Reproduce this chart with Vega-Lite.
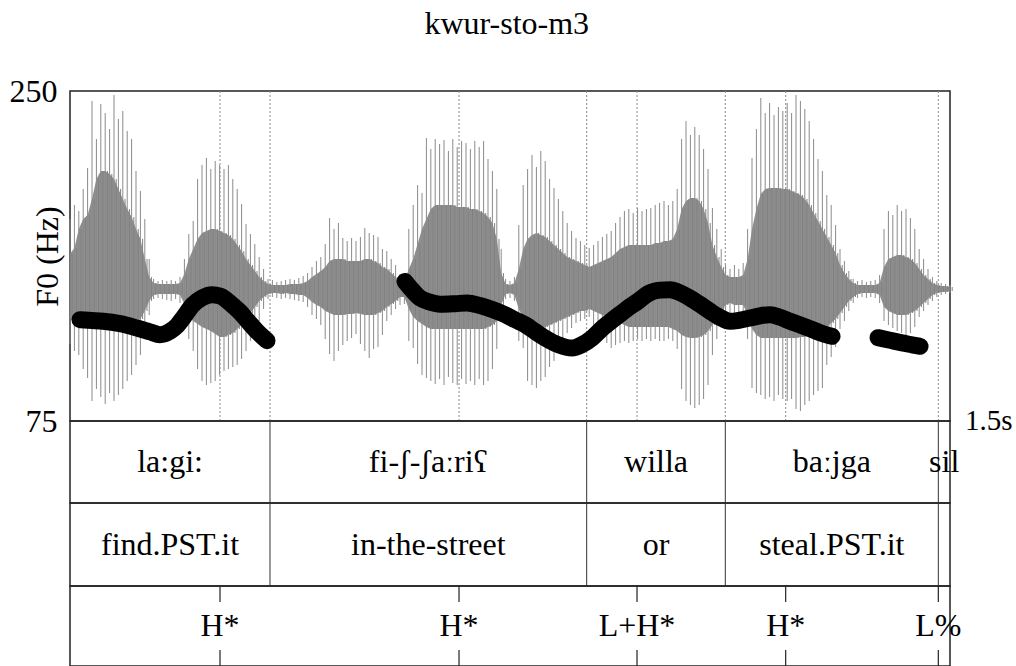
{
"$schema": "https://vega.github.io/schema/vega-lite/v6.json",
"padding": {"left": 8, "top": 8, "right": 2, "bottom": 0},
"title": {"text": "kwur-sto-m3", "fontSize": 32, "font": "Liberation Serif", "fontWeight": "normal", "color": "black", "anchor": "middle", "baseline": "alphabetic", "offset": 8, "dx": -4},
"config": {"font": "Liberation Serif", "view": {"stroke": "#222", "strokeWidth": 1.5}, "concat": {"spacing": 0}},
"spacing": 0,
"bounds": "flush",
"datasets": {
"wave": [
{"t":0,"hi":70,"lo":-55,"ch":35,"cl":-30},{"t":0.0075,"hi":84,"lo":-62,"ch":41,"cl":-32},{"t":0.015,"hi":78,"lo":-66,"ch":60,"cl":-32},{"t":0.0225,"hi":100,"lo":-80,"ch":70,"cl":-35},{"t":0.03,"hi":121,"lo":-89,"ch":74,"cl":-36},{"t":0.0375,"hi":188,"lo":-112,"ch":90,"cl":-38},{"t":0.045,"hi":150,"lo":-100,"ch":110,"cl":-39},{"t":0.0525,"hi":185,"lo":-108,"ch":118,"cl":-40},{"t":0.06,"hi":176,"lo":-115,"ch":118,"cl":-40},{"t":0.0675,"hi":160,"lo":-104,"ch":115,"cl":-40},
{"t":0.075,"hi":194,"lo":-112,"ch":110,"cl":-40},{"t":0.0825,"hi":170,"lo":-106,"ch":100,"cl":-40},{"t":0.09,"hi":178,"lo":-100,"ch":90,"cl":-39},{"t":0.0975,"hi":158,"lo":-92,"ch":80,"cl":-38},{"t":0.105,"hi":150,"lo":-86,"ch":72,"cl":-36},{"t":0.1125,"hi":118,"lo":-76,"ch":60,"cl":-32},{"t":0.12,"hi":98,"lo":-66,"ch":50,"cl":-30},{"t":0.1275,"hi":70,"lo":-50,"ch":30,"cl":-22},{"t":0.135,"hi":30,"lo":-26,"ch":12,"cl":-12},{"t":0.1425,"hi":10,"lo":-10,"ch":6,"cl":-6},
{"t":0.15,"hi":8,"lo":-9,"ch":5,"cl":-5},{"t":0.1575,"hi":9,"lo":-10,"ch":5,"cl":-5},{"t":0.165,"hi":8,"lo":-11,"ch":5,"cl":-5},{"t":0.1725,"hi":9,"lo":-12,"ch":5,"cl":-5},{"t":0.18,"hi":8,"lo":-10,"ch":5,"cl":-5},{"t":0.1875,"hi":12,"lo":-14,"ch":6,"cl":-6},{"t":0.195,"hi":30,"lo":-32,"ch":15,"cl":-15},{"t":0.2025,"hi":55,"lo":-50,"ch":30,"cl":-28},{"t":0.21,"hi":68,"lo":-62,"ch":40,"cl":-32},{"t":0.2175,"hi":110,"lo":-80,"ch":50,"cl":-35},
{"t":0.225,"hi":124,"lo":-92,"ch":56,"cl":-38},{"t":0.2325,"hi":131,"lo":-96,"ch":58,"cl":-40},{"t":0.24,"hi":120,"lo":-94,"ch":60,"cl":-42},{"t":0.2475,"hi":128,"lo":-92,"ch":60,"cl":-45},{"t":0.255,"hi":124,"lo":-86,"ch":58,"cl":-48},{"t":0.2625,"hi":120,"lo":-82,"ch":56,"cl":-48},{"t":0.27,"hi":124,"lo":-80,"ch":54,"cl":-46},{"t":0.2775,"hi":110,"lo":-78,"ch":50,"cl":-44},{"t":0.285,"hi":100,"lo":-76,"ch":44,"cl":-40},{"t":0.2925,"hi":85,"lo":-70,"ch":38,"cl":-36},
{"t":0.3,"hi":65,"lo":-62,"ch":30,"cl":-30},{"t":0.3075,"hi":55,"lo":-52,"ch":24,"cl":-24},{"t":0.315,"hi":45,"lo":-42,"ch":18,"cl":-18},{"t":0.3225,"hi":32,"lo":-32,"ch":12,"cl":-12},{"t":0.33,"hi":20,"lo":-20,"ch":8,"cl":-8},{"t":0.3375,"hi":10,"lo":-10,"ch":5,"cl":-5},{"t":0.345,"hi":9,"lo":-8,"ch":4,"cl":-4},{"t":0.3525,"hi":7,"lo":-9,"ch":4,"cl":-4},{"t":0.36,"hi":8,"lo":-10,"ch":4,"cl":-5},{"t":0.3675,"hi":9,"lo":-9,"ch":4,"cl":-4},
{"t":0.375,"hi":10,"lo":-10,"ch":5,"cl":-5},{"t":0.3825,"hi":9,"lo":-11,"ch":5,"cl":-5},{"t":0.39,"hi":11,"lo":-12,"ch":5,"cl":-6},{"t":0.3975,"hi":13,"lo":-13,"ch":6,"cl":-6},{"t":0.405,"hi":16,"lo":-18,"ch":8,"cl":-9},{"t":0.4125,"hi":22,"lo":-26,"ch":12,"cl":-13},{"t":0.42,"hi":28,"lo":-30,"ch":15,"cl":-16},{"t":0.4275,"hi":32,"lo":-36,"ch":18,"cl":-18},{"t":0.435,"hi":45,"lo":-50,"ch":22,"cl":-22},{"t":0.4425,"hi":71,"lo":-65,"ch":28,"cl":-24},
{"t":0.45,"hi":60,"lo":-72,"ch":30,"cl":-26},{"t":0.4575,"hi":66,"lo":-62,"ch":30,"cl":-26},{"t":0.465,"hi":51,"lo":-56,"ch":30,"cl":-26},{"t":0.4725,"hi":48,"lo":-52,"ch":28,"cl":-25},{"t":0.48,"hi":51,"lo":-49,"ch":28,"cl":-25},{"t":0.4875,"hi":48,"lo":-45,"ch":28,"cl":-24},{"t":0.495,"hi":52,"lo":-55,"ch":28,"cl":-25},{"t":0.5025,"hi":61,"lo":-62,"ch":30,"cl":-26},{"t":0.51,"hi":56,"lo":-69,"ch":30,"cl":-26},{"t":0.5175,"hi":54,"lo":-60,"ch":28,"cl":-26},
{"t":0.525,"hi":52,"lo":-58,"ch":26,"cl":-24},{"t":0.5325,"hi":40,"lo":-46,"ch":22,"cl":-22},{"t":0.54,"hi":38,"lo":-32,"ch":20,"cl":-18},{"t":0.5475,"hi":30,"lo":-26,"ch":16,"cl":-15},{"t":0.555,"hi":24,"lo":-20,"ch":12,"cl":-12},{"t":0.5625,"hi":15,"lo":-16,"ch":8,"cl":-8},{"t":0.57,"hi":14,"lo":-15,"ch":8,"cl":-8},{"t":0.5775,"hi":60,"lo":-52,"ch":20,"cl":-20},{"t":0.585,"hi":84,"lo":-59,"ch":30,"cl":-28},{"t":0.5925,"hi":104,"lo":-75,"ch":45,"cl":-32},
{"t":0.6,"hi":96,"lo":-86,"ch":60,"cl":-35},{"t":0.6075,"hi":151,"lo":-89,"ch":70,"cl":-38},{"t":0.615,"hi":140,"lo":-92,"ch":80,"cl":-40},{"t":0.6225,"hi":150,"lo":-95,"ch":84,"cl":-40},{"t":0.63,"hi":145,"lo":-90,"ch":84,"cl":-40},{"t":0.6375,"hi":149,"lo":-96,"ch":84,"cl":-40},{"t":0.645,"hi":138,"lo":-88,"ch":84,"cl":-40},{"t":0.6525,"hi":150,"lo":-94,"ch":84,"cl":-40},{"t":0.66,"hi":142,"lo":-96,"ch":82,"cl":-40},{"t":0.6675,"hi":148,"lo":-90,"ch":82,"cl":-40},
{"t":0.675,"hi":146,"lo":-95,"ch":82,"cl":-40},{"t":0.6825,"hi":140,"lo":-92,"ch":80,"cl":-40},{"t":0.69,"hi":148,"lo":-96,"ch":80,"cl":-40},{"t":0.6975,"hi":142,"lo":-90,"ch":78,"cl":-40},{"t":0.705,"hi":148,"lo":-96,"ch":76,"cl":-40},{"t":0.7125,"hi":130,"lo":-92,"ch":72,"cl":-38},{"t":0.72,"hi":118,"lo":-80,"ch":66,"cl":-36},{"t":0.7275,"hi":100,"lo":-60,"ch":50,"cl":-32},{"t":0.735,"hi":40,"lo":-30,"ch":16,"cl":-16},{"t":0.7425,"hi":10,"lo":-10,"ch":5,"cl":-5},
{"t":0.75,"hi":8,"lo":-9,"ch":4,"cl":-4},{"t":0.7575,"hi":12,"lo":-12,"ch":6,"cl":-6},{"t":0.765,"hi":64,"lo":-52,"ch":20,"cl":-20},{"t":0.7725,"hi":104,"lo":-59,"ch":40,"cl":-30},{"t":0.78,"hi":120,"lo":-92,"ch":50,"cl":-38},{"t":0.7875,"hi":134,"lo":-96,"ch":54,"cl":-40},{"t":0.795,"hi":122,"lo":-99,"ch":56,"cl":-40},{"t":0.8025,"hi":138,"lo":-92,"ch":54,"cl":-40},{"t":0.81,"hi":128,"lo":-88,"ch":52,"cl":-38},{"t":0.8175,"hi":110,"lo":-78,"ch":48,"cl":-36},
{"t":0.825,"hi":101,"lo":-72,"ch":44,"cl":-34},{"t":0.8325,"hi":90,"lo":-62,"ch":40,"cl":-32},{"t":0.84,"hi":78,"lo":-52,"ch":36,"cl":-30},{"t":0.8475,"hi":66,"lo":-44,"ch":32,"cl":-28},{"t":0.855,"hi":58,"lo":-39,"ch":30,"cl":-26},{"t":0.8625,"hi":51,"lo":-34,"ch":28,"cl":-24},{"t":0.87,"hi":48,"lo":-32,"ch":26,"cl":-22},{"t":0.8775,"hi":44,"lo":-30,"ch":24,"cl":-22},{"t":0.885,"hi":41,"lo":-28,"ch":22,"cl":-20},{"t":0.8925,"hi":44,"lo":-36,"ch":24,"cl":-22},
{"t":0.9,"hi":48,"lo":-42,"ch":26,"cl":-24},{"t":0.9075,"hi":52,"lo":-48,"ch":28,"cl":-26},{"t":0.915,"hi":55,"lo":-54,"ch":30,"cl":-28},{"t":0.9225,"hi":58,"lo":-59,"ch":32,"cl":-30},{"t":0.93,"hi":66,"lo":-56,"ch":36,"cl":-32},{"t":0.9375,"hi":72,"lo":-54,"ch":40,"cl":-34},{"t":0.945,"hi":78,"lo":-52,"ch":42,"cl":-36},{"t":0.9525,"hi":80,"lo":-54,"ch":44,"cl":-38},{"t":0.96,"hi":76,"lo":-52,"ch":44,"cl":-38},{"t":0.9675,"hi":81,"lo":-50,"ch":44,"cl":-38},
{"t":0.975,"hi":78,"lo":-52,"ch":44,"cl":-38},{"t":0.9825,"hi":80,"lo":-50,"ch":44,"cl":-38},{"t":0.99,"hi":81,"lo":-52,"ch":44,"cl":-38},{"t":0.9975,"hi":84,"lo":-50,"ch":46,"cl":-38},{"t":1.005,"hi":86,"lo":-52,"ch":46,"cl":-38},{"t":1.0125,"hi":88,"lo":-52,"ch":48,"cl":-38},{"t":1.02,"hi":84,"lo":-50,"ch":48,"cl":-38},{"t":1.0275,"hi":88,"lo":-52,"ch":50,"cl":-40},{"t":1.035,"hi":100,"lo":-60,"ch":60,"cl":-42},{"t":1.0425,"hi":150,"lo":-100,"ch":80,"cl":-46},
{"t":1.05,"hi":168,"lo":-112,"ch":88,"cl":-48},{"t":1.0575,"hi":154,"lo":-116,"ch":91,"cl":-49},{"t":1.065,"hi":162,"lo":-119,"ch":91,"cl":-49},{"t":1.0725,"hi":154,"lo":-116,"ch":88,"cl":-48},{"t":1.08,"hi":140,"lo":-110,"ch":80,"cl":-46},{"t":1.0875,"hi":120,"lo":-96,"ch":66,"cl":-42},{"t":1.095,"hi":81,"lo":-66,"ch":44,"cl":-36},{"t":1.1025,"hi":60,"lo":-50,"ch":32,"cl":-30},{"t":1.11,"hi":40,"lo":-36,"ch":22,"cl":-22},{"t":1.1175,"hi":24,"lo":-28,"ch":14,"cl":-16},
{"t":1.125,"hi":20,"lo":-26,"ch":12,"cl":-14},{"t":1.1325,"hi":24,"lo":-30,"ch":12,"cl":-16},{"t":1.14,"hi":20,"lo":-32,"ch":12,"cl":-16},{"t":1.1475,"hi":26,"lo":-30,"ch":14,"cl":-16},{"t":1.155,"hi":60,"lo":-50,"ch":30,"cl":-26},{"t":1.1625,"hi":131,"lo":-99,"ch":60,"cl":-40},{"t":1.17,"hi":160,"lo":-104,"ch":80,"cl":-46},{"t":1.1775,"hi":191,"lo":-106,"ch":95,"cl":-49},{"t":1.185,"hi":176,"lo":-110,"ch":100,"cl":-49},{"t":1.1925,"hi":186,"lo":-108,"ch":101,"cl":-49},
{"t":1.2,"hi":174,"lo":-112,"ch":101,"cl":-49},{"t":1.2075,"hi":182,"lo":-106,"ch":101,"cl":-49},{"t":1.215,"hi":178,"lo":-110,"ch":100,"cl":-49},{"t":1.2225,"hi":186,"lo":-112,"ch":100,"cl":-49},{"t":1.23,"hi":176,"lo":-110,"ch":98,"cl":-49},{"t":1.2375,"hi":194,"lo":-120,"ch":96,"cl":-49},{"t":1.245,"hi":188,"lo":-122,"ch":94,"cl":-48},{"t":1.2525,"hi":180,"lo":-116,"ch":90,"cl":-48},{"t":1.26,"hi":168,"lo":-112,"ch":84,"cl":-46},{"t":1.2675,"hi":150,"lo":-106,"ch":76,"cl":-44},
{"t":1.275,"hi":130,"lo":-102,"ch":68,"cl":-42},{"t":1.2825,"hi":118,"lo":-99,"ch":60,"cl":-40},{"t":1.29,"hi":94,"lo":-76,"ch":52,"cl":-38},{"t":1.2975,"hi":84,"lo":-68,"ch":44,"cl":-34},{"t":1.305,"hi":64,"lo":-58,"ch":36,"cl":-30},{"t":1.3125,"hi":40,"lo":-40,"ch":24,"cl":-24},{"t":1.32,"hi":28,"lo":-32,"ch":16,"cl":-18},{"t":1.3275,"hi":18,"lo":-22,"ch":10,"cl":-12},{"t":1.335,"hi":10,"lo":-14,"ch":6,"cl":-8},{"t":1.3425,"hi":8,"lo":-9,"ch":4,"cl":-5},
{"t":1.35,"hi":9,"lo":-8,"ch":4,"cl":-4},{"t":1.3575,"hi":7,"lo":-9,"ch":4,"cl":-4},{"t":1.365,"hi":8,"lo":-8,"ch":4,"cl":-4},{"t":1.3725,"hi":9,"lo":-9,"ch":4,"cl":-4},{"t":1.38,"hi":14,"lo":-14,"ch":6,"cl":-6},{"t":1.3875,"hi":60,"lo":-32,"ch":22,"cl":-18},{"t":1.395,"hi":78,"lo":-36,"ch":30,"cl":-22},{"t":1.4025,"hi":74,"lo":-39,"ch":32,"cl":-24},{"t":1.41,"hi":84,"lo":-42,"ch":34,"cl":-26},{"t":1.4175,"hi":78,"lo":-44,"ch":34,"cl":-26},
{"t":1.425,"hi":80,"lo":-46,"ch":32,"cl":-26},{"t":1.4325,"hi":71,"lo":-44,"ch":30,"cl":-24},{"t":1.44,"hi":60,"lo":-38,"ch":26,"cl":-22},{"t":1.4475,"hi":40,"lo":-28,"ch":20,"cl":-18},{"t":1.455,"hi":30,"lo":-22,"ch":14,"cl":-14},{"t":1.4625,"hi":20,"lo":-16,"ch":10,"cl":-10},{"t":1.47,"hi":12,"lo":-12,"ch":6,"cl":-6},{"t":1.4775,"hi":8,"lo":-8,"ch":4,"cl":-4},{"t":1.485,"hi":6,"lo":-6,"ch":3,"cl":-3},{"t":1.4925,"hi":5,"lo":-5,"ch":3,"cl":-3},
{"t":1.5,"hi":4,"lo":-4,"ch":2,"cl":-2}
],
"f0": [
{"seg":1,"t":0.017,"f0":128.7},{"seg":1,"t":0.0375,"f0":128.3},{"seg":1,"t":0.0563,"f0":127.9},{"seg":1,"t":0.0852,"f0":126.6},{"seg":1,"t":0.1142,"f0":124.3},{"seg":1,"t":0.1364,"f0":122.3},{"seg":1,"t":0.1534,"f0":120.8},{"seg":1,"t":0.1705,"f0":122.6},{"seg":1,"t":0.1824,"f0":125.5},{"seg":1,"t":0.1926,"f0":129.6},{"seg":1,"t":0.2097,"f0":136.7},{"seg":1,"t":0.225,"f0":140.3},{"seg":1,"t":0.242,"f0":142.0},{"seg":1,"t":0.2557,"f0":141.3},{"seg":1,"t":0.2761,"f0":136.7},{"seg":1,"t":0.2898,"f0":132.8},{"seg":1,"t":0.3034,"f0":127.9},{"seg":1,"t":0.3205,"f0":122.0},{"seg":1,"t":0.3358,"f0":117.6},
{"seg":2,"t":0.571,"f0":149.0},{"seg":2,"t":0.583,"f0":144.5},{"seg":2,"t":0.5966,"f0":140.2},{"seg":2,"t":0.6136,"f0":138.0},{"seg":2,"t":0.6307,"f0":136.9},{"seg":2,"t":0.6563,"f0":137.2},{"seg":2,"t":0.6767,"f0":137.6},{"seg":2,"t":0.6989,"f0":136.2},{"seg":2,"t":0.721,"f0":134.0},{"seg":2,"t":0.7415,"f0":131.4},{"seg":2,"t":0.7585,"f0":128.7},{"seg":2,"t":0.7756,"f0":126.1},{"seg":2,"t":0.7926,"f0":122.5},{"seg":2,"t":0.8097,"f0":119.0},{"seg":2,"t":0.8318,"f0":115.5},{"seg":2,"t":0.8557,"f0":113.7},{"seg":2,"t":0.8727,"f0":115.5},{"seg":2,"t":0.8898,"f0":119.0},{"seg":2,"t":0.9085,"f0":124.5},{"seg":2,"t":0.929,"f0":129.6},{"seg":2,"t":0.9494,"f0":134.5},{"seg":2,"t":0.9682,"f0":138.5},{"seg":2,"t":0.9852,"f0":142.5},{"seg":2,"t":1.0057,"f0":144.4},{"seg":2,"t":1.0227,"f0":144.6},{"seg":2,"t":1.0398,"f0":143.0},{"seg":2,"t":1.0568,"f0":140.2},{"seg":2,"t":1.0739,"f0":136.8},{"seg":2,"t":1.0909,"f0":133.2},{"seg":2,"t":1.108,"f0":130.0},{"seg":2,"t":1.125,"f0":127.9},{"seg":2,"t":1.142,"f0":128.5},{"seg":2,"t":1.1591,"f0":129.6},{"seg":2,"t":1.1761,"f0":130.8},{"seg":2,"t":1.1932,"f0":131.4},{"seg":2,"t":1.2102,"f0":130.0},{"seg":2,"t":1.2273,"f0":127.9},{"seg":2,"t":1.2443,"f0":126.0},{"seg":2,"t":1.2614,"f0":124.0},{"seg":2,"t":1.2784,"f0":121.8},{"seg":2,"t":1.2989,"f0":119.9},
{"seg":3,"t":1.3773,"f0":119.2},{"seg":3,"t":1.3977,"f0":117.8},{"seg":3,"t":1.4182,"f0":116.4},{"seg":3,"t":1.4352,"f0":115.4},{"seg":3,"t":1.4489,"f0":114.6}
],
"marks": [{"t":0.2557},{"t":0.3409},{"t":0.6631},{"t":0.8807},{"t":0.9665},{"t":1.117},{"t":1.2199},{"t":1.4801}],
"bounds": [{"t":0.3409},{"t":0.8807},{"t":1.117},{"t":1.4801}],
"words": [{"t":0.1705,"label":"la:gi:"},{"t":0.6108,"label":"fi-ʃ-ʃaːriʕ"},{"t":0.9989,"label":"willa"},{"t":1.2986,"label":"baːjga"},{"t":1.4901,"label":"sil"}],
"gloss": [{"t":0.1705,"label":"find.PST.it"},{"t":0.6108,"label":"in-the-street"},{"t":0.9989,"label":"or"},{"t":1.2986,"label":"steal.PST.it"}],
"tones": [{"t":0.2557,"label":"H*"},{"t":0.6631,"label":"H*"},{"t":0.9665,"label":"L+H*"},{"t":1.2199,"label":"H*"},{"t":1.4801,"label":"L%"}],
"end": [{"t":1.5,"f0":75,"label":"1.5s"}]
},
"vconcat": [
{
"width": 880, "height": 330,
"resolve": {"scale": {"y": "independent"}},
"layer": [
{"data": {"name": "marks"}, "mark": {"type": "rule", "color": "#888", "strokeWidth": 1, "strokeDash": [2, 2]},
 "encoding": {"x": {"field": "t", "type": "quantitative", "scale": {"domain": [0, 1.5], "nice": false, "zero": false}, "axis": null}}},
{"data": {"name": "wave"}, "mark": {"type": "area", "color": "#828282", "opacity": 0.9},
 "encoding": {"x": {"field": "t", "type": "quantitative", "scale": {"domain": [0, 1.5], "nice": false, "zero": false}, "axis": null},
  "y": {"field": "ch", "type": "quantitative", "scale": {"domain": [-132, 198], "nice": false, "zero": false}, "axis": null},
  "y2": {"field": "cl"}}},
{"data": {"name": "wave"}, "mark": {"type": "rule", "color": "#8a8a8a", "strokeWidth": 1},
 "encoding": {"x": {"field": "t", "type": "quantitative", "scale": {"domain": [0, 1.5], "nice": false, "zero": false}, "axis": null},
  "y": {"field": "hi", "type": "quantitative", "scale": {"domain": [-132, 198], "nice": false, "zero": false}, "axis": null},
  "y2": {"field": "lo"}}},
{"data": {"name": "wave"}, "mark": {"type": "rule", "color": "#808080", "strokeWidth": 1, "xOffset": 2.2},
 "encoding": {"x": {"field": "t", "type": "quantitative", "scale": {"domain": [0, 1.5], "nice": false, "zero": false}, "axis": null},
  "y": {"field": "ch", "type": "quantitative", "scale": {"domain": [-132, 198], "nice": false, "zero": false}, "axis": null},
  "y2": {"field": "cl"}}},
{"data": {"name": "f0"}, "mark": {"type": "line", "color": "black", "strokeWidth": 17, "strokeCap": "round", "strokeJoin": "round", "interpolate": "monotone"},
 "encoding": {"x": {"field": "t", "type": "quantitative", "scale": {"domain": [0, 1.5], "nice": false, "zero": false}, "axis": null},
  "y": {"field": "f0", "type": "quantitative", "scale": {"domain": [75, 250], "nice": false, "zero": false},
   "axis": {"orient": "left", "values": [75, 250], "ticks": false, "domain": false, "grid": false, "labelFontSize": 32, "labelFont": "Liberation Serif", "labelColor": "black", "labelPadding": 13,
    "title": "F0 (Hz)", "titleFont": "Liberation Serif", "titleFontSize": 32, "titleFontWeight": "normal", "titleColor": "black", "titleX": -13, "titleY": 165, "titleAngle": -90, "titleBaseline": "alphabetic", "titleAlign": "center"}},
  "detail": {"field": "seg", "type": "nominal"}}},
{"data": {"name": "end"}, "mark": {"type": "text", "align": "left", "baseline": "middle", "dx": 15, "fontSize": 29, "font": "Liberation Serif", "color": "black"},
 "encoding": {"x": {"field": "t", "type": "quantitative", "scale": {"domain": [0, 1.5], "nice": false, "zero": false}, "axis": null},
  "y": {"field": "f0", "type": "quantitative", "scale": {"domain": [75, 250], "nice": false, "zero": false}, "axis": null},
  "text": {"field": "label"}}}
]
},
{
"width": 880, "height": 82,
"layer": [
{"data": {"name": "bounds"}, "mark": {"type": "rule", "color": "#333", "strokeWidth": 1},
 "encoding": {"x": {"field": "t", "type": "quantitative", "scale": {"domain": [0, 1.5], "nice": false, "zero": false}, "axis": null}}},
{"data": {"name": "words"}, "mark": {"type": "text", "fontSize": 32, "font": "Liberation Serif", "color": "black", "baseline": "middle"},
 "encoding": {"x": {"field": "t", "type": "quantitative", "scale": {"domain": [0, 1.5], "nice": false, "zero": false}, "axis": null}, "text": {"field": "label"}}}
]
},
{
"width": 880, "height": 83,
"layer": [
{"data": {"name": "bounds"}, "mark": {"type": "rule", "color": "#333", "strokeWidth": 1},
 "encoding": {"x": {"field": "t", "type": "quantitative", "scale": {"domain": [0, 1.5], "nice": false, "zero": false}, "axis": null}}},
{"data": {"name": "gloss"}, "mark": {"type": "text", "fontSize": 32, "font": "Liberation Serif", "color": "black", "baseline": "middle"},
 "encoding": {"x": {"field": "t", "type": "quantitative", "scale": {"domain": [0, 1.5], "nice": false, "zero": false}, "axis": null}, "text": {"field": "label"}}}
]
},
{
"width": 880, "height": 80,
"layer": [
{"data": {"name": "tones"}, "mark": {"type": "text", "fontSize": 32, "font": "Liberation Serif", "color": "black", "baseline": "middle"},
 "encoding": {"x": {"field": "t", "type": "quantitative", "scale": {"domain": [0, 1.5], "nice": false, "zero": false}, "axis": null}, "text": {"field": "label"}}},
{"data": {"name": "tones"}, "mark": {"type": "rule", "color": "#222", "strokeWidth": 1.2, "strokeDash": [16, 48, 16]},
 "encoding": {"x": {"field": "t", "type": "quantitative", "scale": {"domain": [0, 1.5], "nice": false, "zero": false}, "axis": null}}}
]
}
]
}
